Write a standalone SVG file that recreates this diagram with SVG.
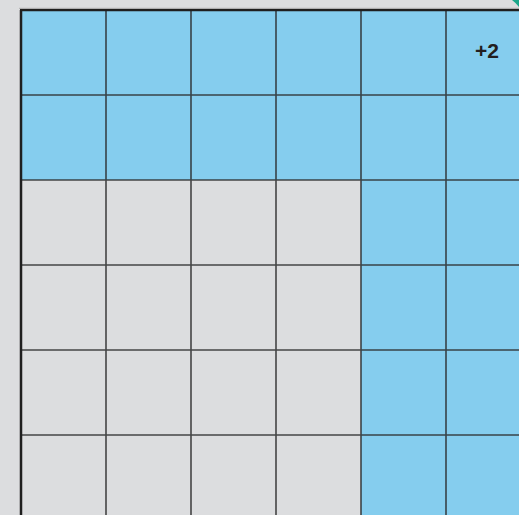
<svg xmlns="http://www.w3.org/2000/svg" width="519" height="515" viewBox="0 0 519 515">
<style>
.b{fill:#85cdee}
.l{stroke:#2a2a2a;stroke-width:1.6;fill:none;stroke-opacity:0.85}
.t{font-family:"Liberation Sans",Arial,sans-serif;font-weight:bold;font-size:21px;fill:#231f20}
</style>
<rect x="0" y="0" width="519" height="515" fill="#dcdddf"/>
<g id="blue-cells">
<rect class="b" x="21" y="10" width="498" height="170"/>
<rect class="b" x="361" y="180" width="158" height="335"/>
</g>
<g id="grid">
<path class="l" d="M106 10V515M191 10V515M276 10V515M361 10V515M446 10V515M21 95H519M21 180H519M21 265H519M21 350H519M21 435H519"/>
<path d="M21 10V515M20 10H519" stroke="#1f1f1f" stroke-width="2.5" fill="none"/>
<path d="M19 8.3H519" stroke="#b0b0b0" stroke-width="1" fill="none"/>
</g>
<g id="label">
<text class="t" x="487" y="58" text-anchor="middle">+2</text>
</g>
<path d="M512 0H519V7Q516 3 512 0Z" fill="#1aa68a"/>
</svg>
